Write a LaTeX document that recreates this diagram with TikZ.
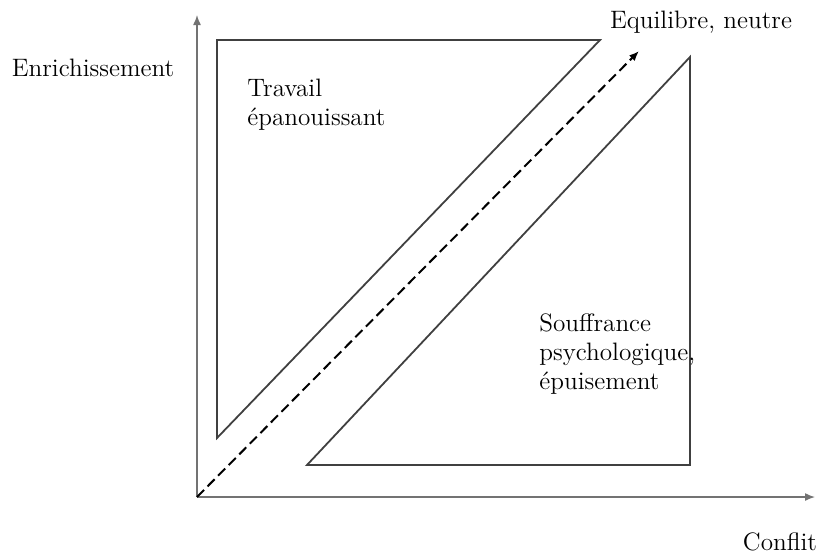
\documentclass[tikz,border=0pt]{standalone}
\usepackage{tikz}
\usetikzlibrary{arrows.meta}

\tikzset{
    axis/.style={draw=black!55, line width=0.7pt, -{Latex[length=5pt,width=4pt]}},
    zone/.style={draw=black!75, line width=0.9pt, line join=miter},
    label/.style={font=\fontsize{12.6}{14.5}\selectfont, inner sep=0pt, align=left},
}

\begin{document}
\begin{tikzpicture}[x=0.5pt, y=-0.5pt]
            \useasboundingbox (0, 0) rectangle (819, 554);

            \coordinate (O) at (197, 497);
            \coordinate (ytop) at (197, 15);
            \coordinate (xend) at (815, 497);
            \coordinate (eq) at (639, 51);

            \draw[axis] (O) -- (ytop);
            \draw[axis] (O) -- (xend);

            \draw[zone] (217, 40) -- (600, 40) -- (217, 438) -- cycle;
            \draw[zone] (690, 57) -- (690, 465) -- (307, 465) -- cycle;

            \draw[black, line width=1pt, dash pattern=on 5pt off 2.5pt,
                  -{Latex[length=5pt,width=4pt]}] (O) -- (eq);

            \node[label] (enrich) at (93, 68) {Enrichissement};
            \node[label] (equil) at (701, 22) {Equilibre, neutre};
            \node[label] (conflit) at (780, 542) {Conflit};
            \node[label, anchor=north west] (travail) at (247, 79) {Travail\\épanouissant};
            \node[label, anchor=north west] (souff) at (539, 313) {Souffrance\\psychologique,\\épuisement};
        \end{tikzpicture}
\end{document}
